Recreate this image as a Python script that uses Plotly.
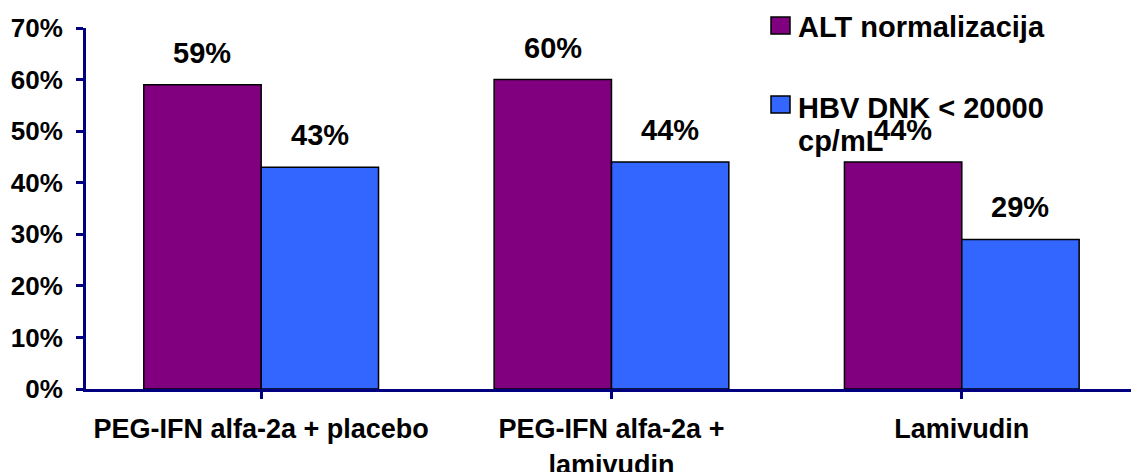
import plotly.graph_objects as go

# Treatment arms and response rates (%)
categories = ["PEG-IFN alfa-2a + placebo", "PEG-IFN alfa-2a +<br>lamivudin", "Lamivudin"]
series_names = ["ALT normalizacija", "HBV DNK &lt; 20000<br>cp/mL"]
alt_values = [59, 60, 44]
hbv_values = [43, 44, 29]
y_ticks = [0, 10, 20, 30, 40, 50, 60, 70]
y_tick_labels = [f"{t}%" for t in y_ticks]

PURPLE = "#800080"
BLUE = "#3366FF"
NAVY = "#000080"
FONT = "Liberation Sans, Arial, sans-serif"

W, H = 1131, 472
ML, MR, MT, MB = 86, 0, 28, 83
BARGAP = 0.33

fig = go.Figure()
for name, vals, color in [(series_names[0], alt_values, PURPLE),
                          (series_names[1], hbv_values, BLUE)]:
    fig.add_trace(go.Bar(
        x=list(range(len(categories))), y=vals, name=name,
        marker=dict(color=color, line=dict(color="black", width=1.5)),
        showlegend=False,
    ))

# value labels above each bar
half = (1 - BARGAP) / 4
for vals, off in [(alt_values, -half), (hbv_values, half)]:
    for i, v in enumerate(vals):
        fig.add_annotation(x=i + off, y=v, text=f"{v}%", showarrow=False,
                           yanchor="bottom", yshift=14,
                           font=dict(family=FONT, size=29, color="black", weight="bold"))

# hand-built legend in the upper right
pw, ph = W - ML - MR, H - MT - MB
def px_x(px):
    return (px - ML) / pw
def px_y(py):
    return (H - MB - py) / ph

legend_items = [(series_names[0], PURPLE, 17), (series_names[1], BLUE, 96)]
for text, color, top in legend_items:
    fig.add_shape(type="rect", xref="paper", yref="paper",
                  x0=px_x(771), x1=px_x(790), y0=px_y(top + 17), y1=px_y(top),
                  fillcolor=color, line=dict(color="black", width=1.5))
    for k, line in enumerate(text.split("<br>")):
        fig.add_annotation(xref="paper", yref="paper", x=px_x(796),
                           y=px_y(top - 8 + 33 * k) if k == 0 and top < 50 else px_y(top - 6 + 33 * k),
                           xanchor="left", yanchor="top", align="left", showarrow=False,
                           text=line,
                           font=dict(family=FONT, size=29, color="black", weight="bold"))

fig.update_layout(
    width=W, height=H,
    margin=dict(l=ML, r=MR, t=MT, b=MB),
    paper_bgcolor="white", plot_bgcolor="white",
    barmode="group", bargap=BARGAP, bargroupgap=0,
    font=dict(family=FONT, size=26, color="black", weight="bold"),
)
fig.update_xaxes(
    tickmode="array", tickvals=list(range(len(categories))), ticktext=categories,
    range=[-0.5, 2.483], tickson="boundaries", automargin=False,
    showline=True, linecolor=NAVY, linewidth=3,
    ticks="outside", ticklen=7, tickwidth=3, tickcolor=NAVY,
    ticklabelstandoff=7, showgrid=False, zeroline=False,
    tickfont=dict(family=FONT, size=27, color="black", weight="bold"),
)
fig.update_yaxes(
    range=[0, 70], tickmode="array", tickvals=y_ticks, ticktext=y_tick_labels,
    automargin=False,
    showline=True, linecolor=NAVY, linewidth=3,
    ticks="outside", ticklen=7, tickwidth=3, tickcolor=NAVY,
    ticklabelstandoff=8, showgrid=False, zeroline=False,
    tickfont=dict(family=FONT, size=26, color="black", weight="bold"),
)

fig.write_html("out.html")
